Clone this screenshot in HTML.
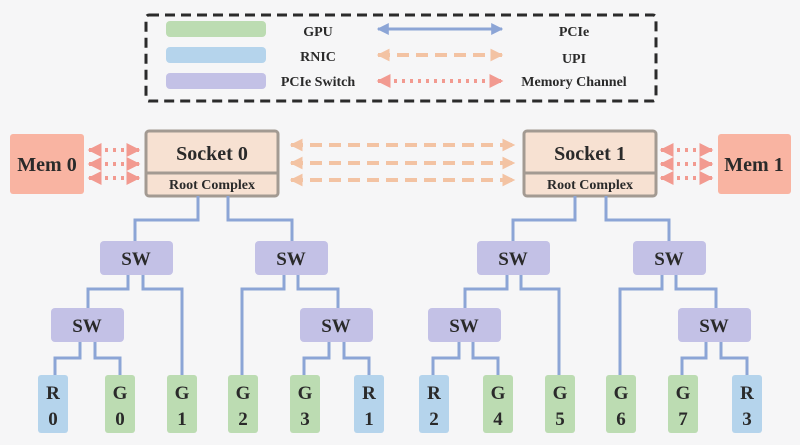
<!DOCTYPE html>
<html><head><meta charset="utf-8"><style>
html,body{margin:0;padding:0;background:#f7f7f8;}
svg{display:block;}
text{font-family:"Liberation Serif",serif;font-weight:bold;fill:#2a2a2a;}
</style></head><body>
<svg width="800" height="445" viewBox="0 0 800 445" xmlns="http://www.w3.org/2000/svg">
<defs>
<marker id="pb" viewBox="0 0 10 10" refX="9" refY="5" markerWidth="4" markerHeight="4" orient="auto-start-reverse"><path d="M0,0L10,5L0,10z" fill="#8ca5d6"/></marker>
<marker id="ub" viewBox="0 0 10 10" refX="9" refY="5" markerWidth="3.2" markerHeight="3.2" orient="auto-start-reverse"><path d="M0,0L10,5L0,10z" fill="#f3c3a3"/></marker>
<marker id="mb" viewBox="0 0 10 10" refX="9" refY="5" markerWidth="3.5" markerHeight="3.5" orient="auto-start-reverse"><path d="M0,0L10,5L0,10z" fill="#f29a90"/></marker>
</defs>
<rect width="800" height="445" fill="#f6f6f7"/>
<rect x="146" y="15" width="510" height="86" rx="3" fill="none" stroke="#2b2b2b" stroke-width="3" stroke-dasharray="10,6"/>
<rect x="166" y="21" width="100" height="16" rx="4" fill="#bcdcb2"/>
<rect x="166" y="47" width="100" height="16" rx="4" fill="#b5d4ec"/>
<rect x="166" y="73" width="100" height="16" rx="4" fill="#c3c1e6"/>
<text x="318" y="36" font-size="14" text-anchor="middle">GPU</text>
<text x="318" y="61" font-size="14" text-anchor="middle">RNIC</text>
<text x="318" y="86" font-size="14" text-anchor="middle">PCIe Switch</text>
<line x1="378" y1="29" x2="502" y2="29" stroke="#8ca5d6" stroke-width="3" marker-start="url(#pb)" marker-end="url(#pb)"/>
<line x1="378" y1="55" x2="502" y2="55" stroke="#f3c3a3" stroke-width="4" stroke-dasharray="12,7" marker-start="url(#ub)" marker-end="url(#ub)"/>
<line x1="378" y1="81" x2="502" y2="81" stroke="#f29a90" stroke-width="4" stroke-dasharray="3,5" marker-start="url(#mb)" marker-end="url(#mb)"/>
<text x="574" y="36" font-size="14" text-anchor="middle">PCIe</text>
<text x="574" y="63" font-size="14" text-anchor="middle">UPI</text>
<text x="574" y="86" font-size="14" text-anchor="middle">Memory Channel</text>
<rect x="10" y="134" width="74" height="60" rx="3" fill="#f9b4a2"/>
<text x="47" y="171" font-size="20" text-anchor="middle">Mem 0</text>
<rect x="718" y="134" width="73" height="60" rx="3" fill="#f9b4a2"/>
<text x="754" y="171" font-size="20" text-anchor="middle">Mem 1</text>
<g stroke="#a39a92" stroke-width="3">
<rect x="146" y="131" width="132" height="65" rx="3" fill="#f7e1d2"/>
<line x1="146" y1="173" x2="278" y2="173"/>
<rect x="524" y="131" width="132" height="65" rx="3" fill="#f7e1d2"/>
<line x1="524" y1="173" x2="656" y2="173"/>
</g>
<text x="212" y="160" font-size="20" text-anchor="middle">Socket 0</text>
<text x="212" y="189" font-size="14" text-anchor="middle">Root Complex</text>
<text x="590" y="160" font-size="20" text-anchor="middle">Socket 1</text>
<text x="590" y="189" font-size="14" text-anchor="middle">Root Complex</text>
<g stroke="#f29a90" stroke-width="4" stroke-dasharray="3,5">
<line x1="89" y1="150" x2="139" y2="150" marker-start="url(#mb)" marker-end="url(#mb)"/>
<line x1="89" y1="164" x2="139" y2="164" marker-start="url(#mb)" marker-end="url(#mb)"/>
<line x1="89" y1="178" x2="139" y2="178" marker-start="url(#mb)" marker-end="url(#mb)"/>
<line x1="661" y1="150" x2="712" y2="150" marker-start="url(#mb)" marker-end="url(#mb)"/>
<line x1="661" y1="164" x2="712" y2="164" marker-start="url(#mb)" marker-end="url(#mb)"/>
<line x1="661" y1="178" x2="712" y2="178" marker-start="url(#mb)" marker-end="url(#mb)"/>
</g>
<g stroke="#f3c3a3" stroke-width="4" stroke-dasharray="12,7">
<line x1="291" y1="145" x2="514" y2="145" marker-start="url(#ub)" marker-end="url(#ub)"/>
<line x1="291" y1="163" x2="514" y2="163" marker-start="url(#ub)" marker-end="url(#ub)"/>
<line x1="291" y1="180" x2="514" y2="180" marker-start="url(#ub)" marker-end="url(#ub)"/>
</g>
<g fill="none" stroke="#8ca5d6" stroke-width="3">
<path d="M198,196V220H135V241M228,196V220H292V241"/>
<path d="M128,274V289H88V308M143,274V289H182V375"/>
<path d="M284,274V289H242V375M298,274V289H338V308"/>
<path d="M80,341V358H55V375M95,341V358H120V375"/>
<path d="M329,341V358H304V375M344,341V358H369V375"/>
<path d="M575,196V220H513V241M606,196V220H669V241"/>
<path d="M507,274V289H465V308M521,274V289H559V375"/>
<path d="M662,274V289H620V375M676,274V289H716V308"/>
<path d="M459,341V358H433V375M473,341V358H498V375"/>
<path d="M706,341V358H682V375M721,341V358H747V375"/>
</g>
<g fill="#c3c1e6">
<rect x="100" y="241" width="73" height="34" rx="4"/>
<rect x="255" y="241" width="73" height="34" rx="4"/>
<rect x="51" y="308" width="73" height="34" rx="4"/>
<rect x="300" y="308" width="73" height="34" rx="4"/>
<rect x="477" y="241" width="73" height="34" rx="4"/>
<rect x="633" y="241" width="73" height="34" rx="4"/>
<rect x="428" y="308" width="73" height="34" rx="4"/>
<rect x="678" y="308" width="73" height="34" rx="4"/>
</g>
<g font-size="19" text-anchor="middle">
<text x="136" y="265">SW</text><text x="291" y="265">SW</text>
<text x="87" y="332">SW</text><text x="336" y="332">SW</text>
<text x="513" y="265">SW</text><text x="669" y="265">SW</text>
<text x="464" y="332">SW</text><text x="714" y="332">SW</text>
</g>
<g>
<rect x="38" y="375" width="30" height="58" rx="3" fill="#b5d4ec"/>
<rect x="105" y="375" width="30" height="58" rx="3" fill="#bcdcb2"/>
<rect x="167" y="375" width="30" height="58" rx="3" fill="#bcdcb2"/>
<rect x="228" y="375" width="30" height="58" rx="3" fill="#bcdcb2"/>
<rect x="290" y="375" width="30" height="58" rx="3" fill="#bcdcb2"/>
<rect x="354" y="375" width="30" height="58" rx="3" fill="#b5d4ec"/>
<rect x="419" y="375" width="30" height="58" rx="3" fill="#b5d4ec"/>
<rect x="483" y="375" width="30" height="58" rx="3" fill="#bcdcb2"/>
<rect x="545" y="375" width="30" height="58" rx="3" fill="#bcdcb2"/>
<rect x="606" y="375" width="30" height="58" rx="3" fill="#bcdcb2"/>
<rect x="668" y="375" width="30" height="58" rx="3" fill="#bcdcb2"/>
<rect x="732" y="375" width="30" height="58" rx="3" fill="#b5d4ec"/>
</g>
<g font-size="19" text-anchor="middle">
<text x="53" y="399">R</text><text x="53" y="425">0</text>
<text x="120" y="399">G</text><text x="120" y="425">0</text>
<text x="182" y="399">G</text><text x="182" y="425">1</text>
<text x="243" y="399">G</text><text x="243" y="425">2</text>
<text x="305" y="399">G</text><text x="305" y="425">3</text>
<text x="369" y="399">R</text><text x="369" y="425">1</text>
<text x="434" y="399">R</text><text x="434" y="425">2</text>
<text x="498" y="399">G</text><text x="498" y="425">4</text>
<text x="560" y="399">G</text><text x="560" y="425">5</text>
<text x="621" y="399">G</text><text x="621" y="425">6</text>
<text x="683" y="399">G</text><text x="683" y="425">7</text>
<text x="747" y="399">R</text><text x="747" y="425">3</text>
</g>
</svg>
</body></html>
